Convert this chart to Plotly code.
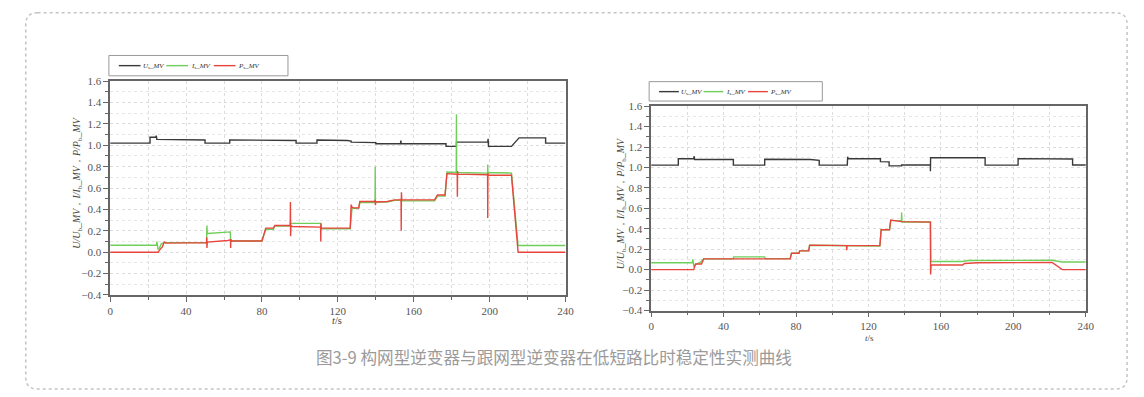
import plotly.graph_objects as go

# ---------------- data ----------------
# Left panel: grid-forming inverter
gfm_u_t = [0, 21, 21, 24, 24.3, 24.6, 50, 50, 63, 63, 98, 98, 109, 109, 125, 127, 127, 140, 140,
           153, 153.2, 153.4, 177, 177, 182.5, 182.5, 199, 199.2, 199.4, 199.6, 211.5, 215.5,
           229.5, 229.5, 240]
gfm_u_v = [1.02, 1.02, 1.075, 1.075, 1.09, 1.055, 1.05, 1.02, 1.02, 1.05, 1.045, 1.02, 1.02, 1.05,
           1.045, 1.04, 1.03, 1.025, 1.015, 1.015, 1.045, 1.015, 1.015, 0.99, 0.99, 1.03, 1.03,
           1.06, 0.985, 0.99, 0.99, 1.07, 1.07, 1.02, 1.02]

gfm_i_t = [0, 24.4, 24.6, 25.2, 26, 27, 28.5, 50.8, 51, 51.2, 51.4, 63.3, 63.5, 64, 80, 82, 86,
           86.8, 94.9, 95, 95.2, 111, 111.2, 112, 126.5, 127.5, 128.2, 131, 131.6, 139.6, 139.7,
           139.8, 146, 150, 153.3, 153.5, 153.7, 171, 172.5, 176.5, 177.5, 182.4, 182.5, 182.6,
           198.9, 199, 199.1, 211.5, 215, 240]
gfm_i_v = [0.065, 0.065, 0.1, 0.03, 0.04, 0.08, 0.09, 0.09, 0.25, 0.17, 0.175, 0.19, 0.11, 0.105,
           0.105, 0.215, 0.215, 0.245, 0.245, 0.28, 0.272, 0.27, 0.22, 0.22, 0.22, 0.42, 0.41,
           0.41, 0.465, 0.465, 0.8, 0.47, 0.47, 0.485, 0.485, 0.5, 0.48, 0.48, 0.525, 0.525, 0.75,
           0.745, 1.29, 0.745, 0.74, 0.82, 0.745, 0.74, 0.063, 0.063]

gfm_p_t = [0, 25.3, 26, 27.5, 28.5, 29.5, 50.8, 50.9, 51.0, 51.2, 62, 63.4, 63.5, 63.6, 64, 80, 82,
           86, 86.8, 94.9, 95, 95.1, 95.3, 96, 110.9, 111, 111.1, 111.3, 112, 126.5, 127, 127.5,
           128.2, 131, 131.6, 139.6, 139.7, 139.8, 140, 146, 150, 153.3, 153.4, 153.5, 153.7, 171,
           172.5, 176.5, 177.5, 182.9, 183, 183.1, 183.3, 198.9, 199, 199.1, 199.3, 211.5, 215, 240]
gfm_p_v = [0, 0, 0.02, 0.05, 0.095, 0.085, 0.09, 0.14, 0.04, 0.095, 0.11, 0.115, 0.04, 0.12, 0.105,
           0.105, 0.225, 0.225, 0.25, 0.25, 0.47, 0.15, 0.25, 0.24, 0.235, 0.1, 0.27, 0.225, 0.225,
           0.225, 0.445, 0.42, 0.415, 0.415, 0.475, 0.475, 0.49, 0.44, 0.47, 0.475, 0.49, 0.49, 0.2,
           0.56, 0.49, 0.49, 0.535, 0.535, 0.735, 0.73, 0.52, 0.76, 0.73, 0.725, 0.32, 0.74, 0.72,
           0.72, 0.0, 0.0]

# Right panel: grid-following inverter
gfl_u_t = [0, 15, 15, 23.5, 23.7, 24, 45.4, 45.4, 62.7, 62.7, 88, 92.8, 92.8, 108.3, 108.5, 108.8,
           126.6, 126.6, 131.4, 131.4, 138.3, 138.3, 154.2, 154.2, 154.3, 154.4, 184.4, 184.4,
           202.6, 202.6, 232.7, 232.7, 240]
gfl_u_v = [1.023, 1.023, 1.085, 1.085, 1.11, 1.078, 1.078, 1.023, 1.023, 1.08, 1.078, 1.07, 1.023,
           1.023, 1.105, 1.087, 1.085, 1.057, 1.055, 1.016, 1.016, 1.025, 1.025, 0.962, 1.095,
           1.095, 1.095, 1.023, 1.023, 1.087, 1.083, 1.025, 1.025]

gfl_i_t = [0, 22.8, 23, 23.6, 24.5, 27, 29, 45.4, 45.6, 62.7, 63, 76.8, 77.5, 81.6, 82, 87, 87.5,
           108, 126.3, 127, 131.6, 132.3, 138.2, 138.3, 138.5, 154.2, 154.4, 172, 175, 221.4,
           226.9, 240]
gfl_i_v = [0.067, 0.067, 0.1, 0.03, 0.05, 0.07, 0.105, 0.105, 0.125, 0.125, 0.108, 0.108, 0.16,
           0.16, 0.184, 0.184, 0.238, 0.232, 0.232, 0.39, 0.39, 0.48, 0.48, 0.56, 0.467, 0.467,
           0.08, 0.08, 0.09, 0.092, 0.075, 0.075]

gfl_p_t = [0, 23.5, 24.5, 27.8, 29, 45.4, 45.6, 62.7, 63, 76.8, 77.5, 81.6, 82, 87, 87.5, 107.9,
           108, 108.2, 126.3, 127, 131.6, 132.3, 138.3, 154.2, 154.3, 154.6, 172, 173, 180, 221.4,
           227, 240]
gfl_p_v = [0, 0, 0.055, 0.055, 0.105, 0.105, 0.1, 0.1, 0.105, 0.105, 0.16, 0.16, 0.184, 0.184,
           0.24, 0.235, 0.19, 0.235, 0.235, 0.39, 0.39, 0.485, 0.47, 0.465, -0.048, 0.045, 0.045,
           0.06, 0.068, 0.07, 0.0, 0.0]

series_names = ["<i>U</i><sub>s</sub><i>_MV</i>", "<i>I</i><sub>s</sub><i>_MV</i>",
                "<i>P</i><sub>s</sub><i>_MV</i>"]
x_ticks = [0, 40, 80, 120, 160, 200, 240]
y_ticks = [-0.4, -0.2, 0.0, 0.2, 0.4, 0.6, 0.8, 1.0, 1.2, 1.4, 1.6]
caption = "图3-9 构网型逆变器与跟网型逆变器在低短路比时稳定性实测曲线"
y_title = ("<i>U/U</i><sub>b</sub><i>_MV</i>，<i>I/I</i><sub>b</sub><i>_MV</i>，"
           "<i>P/P</i><sub>b</sub><i>_MV</i>")

# ---------------- figure ----------------
W, H = 1144, 397
def px(x):
    return x / W
def py(y):
    return 1 - y / H

SERIF = "Liberation Serif, Times New Roman, DejaVu Serif, serif"
colors = ["#3a3a3a", "#6fcf5a", "#e8453c"]
fig = go.Figure()

left = [(gfm_u_t, gfm_u_v), (gfm_i_t, gfm_i_v), (gfm_p_t, gfm_p_v)]
right = [(gfl_u_t, gfl_u_v), (gfl_i_t, gfl_i_v), (gfl_p_t, gfl_p_v)]
for k, (t, v) in enumerate(left):
    fig.add_trace(go.Scatter(x=t, y=v, mode="lines", name=series_names[k],
                             line=dict(color=colors[k], width=1.4),
                             xaxis="x", yaxis="y", showlegend=False))
for k, (t, v) in enumerate(right):
    fig.add_trace(go.Scatter(x=t, y=v, mode="lines", name=series_names[k],
                             line=dict(color=colors[k], width=1.4),
                             xaxis="x2", yaxis="y2", showlegend=False))

tickfont = dict(family=SERIF, size=11, color="#555")
def xax(domain, anchor):
    return dict(domain=domain, anchor=anchor, range=[0, 240], tickvals=x_ticks,
                ticks="outside", ticklen=5, tickcolor="#666", tickwidth=1,
                showline=True, linecolor="#666", linewidth=1.5, mirror=True,
                showgrid=True, gridcolor="#dcdcdc", griddash="dot", gridwidth=1,
                zeroline=False, tickfont=tickfont,
                minor=dict(dtick=20, tick0=0, ticks="outside", ticklen=3, tickcolor="#666",
                           showgrid=True, gridcolor="#dcdcdc", griddash="dot"))
def yax(domain, anchor):
    return dict(domain=domain, anchor=anchor, range=[-0.4, 1.6], tickvals=y_ticks,
                tickformat=".1f",
                ticks="outside", ticklen=5, tickcolor="#666", tickwidth=1,
                showline=True, linecolor="#666", linewidth=1.5, mirror=True,
                showgrid=True, gridcolor="#dcdcdc", griddash="dot", gridwidth=1,
                zeroline=False, tickfont=tickfont,
                minor=dict(dtick=0.1, tick0=0, ticks="outside", ticklen=3, tickcolor="#666",
                           showgrid=True, gridcolor="#e6e6e6", griddash="dot"))

fig.update_layout(
    width=W, height=H, margin=dict(l=0, r=0, t=0, b=0),
    paper_bgcolor="white", plot_bgcolor="white", showlegend=False,
    xaxis=xax([px(108.3), px(568.5)], "y"),
    yaxis=yax([py(298.0), py(77.5)], "x"),
    xaxis2=xax([px(655), px(1094.3)], "y2"),
    yaxis2=yax([py(314.0), py(103.3)], "x2"),
)

shapes = []
ann = []
common = dict(xref="paper", yref="paper", showarrow=False, xanchor="center", yanchor="middle")

# legend frames with line samples and labels (built from series names / colours)
legend_boxes = [dict(box=(107, 51, 288, 72), x0=117, step=48, seg=22, yc=61.5),
                dict(box=(653, 78, 828, 98), x0=663, step=45, seg=20, yc=88.3)]
legfont = dict(family=SERIF, size=7, color="#333")
for lb in legend_boxes:
    bx0, by0, bx1, by1 = lb["box"]
    shapes.append(dict(type="rect", xref="paper", yref="paper", x0=px(bx0), x1=px(bx1),
                       y0=py(by1), y1=py(by0), line=dict(color="#999", width=1),
                       fillcolor="white", layer="above"))
    for k, name in enumerate(series_names):
        xs = lb["x0"] + k * lb["step"]
        shapes.append(dict(type="line", xref="paper", yref="paper", x0=px(xs),
                           x1=px(xs + lb["seg"]), y0=py(lb["yc"]), y1=py(lb["yc"]),
                           line=dict(color=colors[k], width=1.4), layer="above"))
        ann.append(dict(x=px(xs + lb["seg"] + 0.5), y=py(lb["yc"]), text=name,
                        xref="paper", yref="paper", showarrow=False, xanchor="left",
                        yanchor="middle", font=legfont))

# outer dotted rounded border
bx0, by0, bx1, by1, r = 23, 7, 1136, 395, 12
pth = (f"M {px(bx0 + r)},{py(by0)} L {px(bx1 - r)},{py(by0)} "
       f"Q {px(bx1)},{py(by0)} {px(bx1)},{py(by0 + r)} "
       f"L {px(bx1)},{py(by1 - r)} Q {px(bx1)},{py(by1)} {px(bx1 - r)},{py(by1)} "
       f"L {px(bx0 + r)},{py(by1)} Q {px(bx0)},{py(by1)} {px(bx0)},{py(by1 - r)} "
       f"L {px(bx0)},{py(by0 + r)} Q {px(bx0)},{py(by0)} {px(bx0 + r)},{py(by0)} Z")
shapes.append(dict(type="path", xref="paper", yref="paper", path=pth,
                   line=dict(color="#c4c4c4", width=1.5, dash="dot")))
fig.update_layout(shapes=shapes)

titlefont = dict(family=SERIF, size=10, color="#444")
ann.append(dict(x=px(75), y=py(182), text=y_title, textangle=-90, font=titlefont, **common))
ann.append(dict(x=px(625), y=py(203), text=y_title, textangle=-90, font=titlefont, **common))
ann.append(dict(x=px(338), y=py(324), text="<i>t</i>/s",
                font=dict(family=SERIF, size=10.5, color="#444"), **common))
ann.append(dict(x=px(876), y=py(342), text="<i>t</i>/s",
                font=dict(family=SERIF, size=9, color="#444"), **common))
ann.append(dict(x=px(557), y=py(362), text=caption,
                font=dict(family="Noto Sans CJK SC", size=16.6, color="#9a9a9a"), **common))
fig.update_layout(annotations=ann)

fig.write_html("out.html",
               post_script="document.body.style.margin='0';document.body.style.padding='0';")
